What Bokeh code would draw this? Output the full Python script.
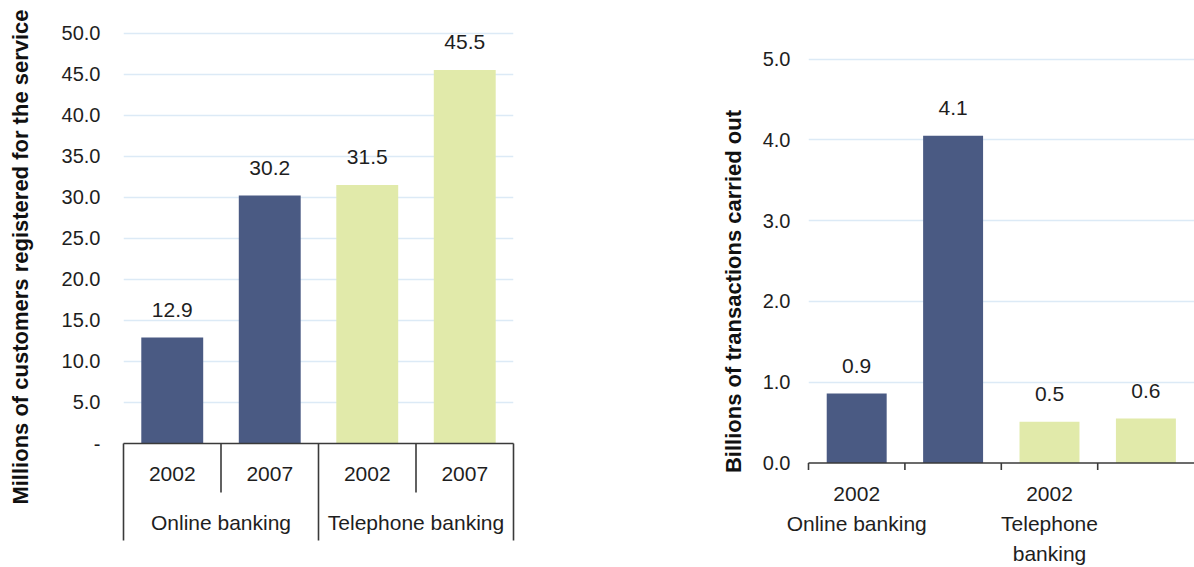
import math
from decimal import Decimal, ROUND_HALF_UP

from bokeh.plotting import figure
from bokeh.layouts import row
from bokeh.models import Range1d, FixedTicker, CustomJSTickFormatter
from bokeh.core.properties import value
from bokeh.embed import file_html
from bokeh.resources import INLINE

# ---------------- data ----------------
channels = ["Online banking", "Online banking", "Telephone banking", "Telephone banking"]
years = ["2002", "2007", "2002", "2007"]
customers_millions = [12.9, 30.2, 31.5, 45.5]
transactions_billions = [0.86, 4.05, 0.51, 0.55]
channel_colors = {"Online banking": "#4A5A83", "Telephone banking": "#E1EAAA"}
left_ticks = [0, 5, 10, 15, 20, 25, 30, 35, 40, 45, 50]
right_ticks = [0, 1, 2, 3, 4, 5]
left_title = "Millions of customers registered for the service"
right_title = "Billions of transactions carried out"

# ---------------- style ----------------
FONT = "Liberation Sans"
TEXT = "#1E1E1E"
AXIS = "#3A3A3A"
GRID = "#DCEAF6"

# shared vertical layout (both figures identical so row alignment is neutral)
BORDER_TOP = 20
FRAME_H = 512
BORDER_BOTTOM = 35


def fmt1(v):
    return str(Decimal(str(v)).quantize(Decimal("0.1"), rounding=ROUND_HALF_UP))


n = len(years)
xs = [i + 0.5 for i in range(n)]
bar_colors = [channel_colors[c] for c in channels]

group_edges = [0] + [i for i in range(1, n) if channels[i] != channels[i - 1]] + [n]
inner_edges = [i for i in range(1, n) if i not in group_edges]
group_centers = [(a + b) / 2 for a, b in zip(group_edges[:-1], group_edges[1:])]
group_names = [channels[a] for a in group_edges[:-1]]


def style_yaxis(p, ticks, formatter_code, label_standoff, tick_size):
    ax = p.yaxis[0]
    ax.ticker = FixedTicker(ticks=ticks, minor_ticks=[])
    ax.formatter = CustomJSTickFormatter(code=formatter_code)
    ax.axis_line_color = None
    ax.major_tick_line_color = None
    ax.minor_tick_line_color = None
    ax.major_tick_out = 0
    ax.major_tick_in = 0
    ax.major_label_standoff = label_standoff
    ax.major_label_text_font = FONT
    ax.major_label_text_font_size = tick_size
    ax.major_label_text_color = TEXT


def base_style(p):
    p.outline_line_color = None
    p.xgrid.grid_line_color = None
    p.ygrid.grid_line_color = GRID
    p.ygrid.grid_line_width = 1.5
    p.background_fill_color = "white"
    p.border_fill_color = "white"


def add_title(p, text, y_center, x_offset_px, size):
    p.text(x=[0], y=[y_center], text=[text], x_offset=x_offset_px, angle=math.pi / 2,
           text_align="center", text_baseline="middle", text_font=value(FONT),
           text_font_size=size, text_font_style="bold", text_color="#111111", level="overlay")


# ================= left chart =================
l_scale = 8.21       # px per unit
l_zero = 423         # px from frame top down to value 0
pl = figure(
    width=600, height=BORDER_TOP + FRAME_H + BORDER_BOTTOM,
    frame_width=390, frame_height=FRAME_H,
    min_border_left=123, min_border_right=87, min_border_top=BORDER_TOP, min_border_bottom=BORDER_BOTTOM,
    x_range=Range1d(0, n), y_range=Range1d(-(FRAME_H - l_zero) / l_scale, l_zero / l_scale),
    x_axis_location=None, output_backend="svg", toolbar_location=None,
)
base_style(pl)
pl.ygrid.ticker = FixedTicker(ticks=left_ticks[1:])
style_yaxis(pl, left_ticks, "return tick == 0 ? '-' : tick.toFixed(1);", 23, "20px")
add_title(pl, left_title, (l_zero - 236.5) / l_scale, -103.5, "22px")

pl.vbar(x=xs, top=customers_millions, bottom=0, width=0.635,
        fill_color=bar_colors, line_color=None)
pl.text(x=xs, y=customers_millions, text=[fmt1(v) for v in customers_millions],
        y_offset=-28, text_align="center", text_baseline="middle",
        text_font=value(FONT), text_font_size="21px", text_color=TEXT)

pl.segment(x0=[0], y0=[0], x1=[n], y1=[0], line_color=AXIS, line_width=1.6, level="overlay")
pl.segment(x0=group_edges, y0=[0] * len(group_edges), x1=group_edges,
           y1=[-97 / l_scale] * len(group_edges), line_color=AXIS, line_width=1.6, level="overlay")
pl.segment(x0=inner_edges, y0=[0] * len(inner_edges), x1=inner_edges,
           y1=[-49 / l_scale] * len(inner_edges), line_color=AXIS, line_width=1.6, level="overlay")
pl.text(x=xs, y=[0] * n, text=years, y_offset=30, text_align="center", text_baseline="middle",
        text_font=value(FONT), text_font_size="21px", text_color=TEXT, level="overlay")
pl.text(x=group_centers, y=[0] * len(group_centers), text=group_names, y_offset=79,
        text_align="center", text_baseline="middle",
        text_font=value(FONT), text_font_size="21px", text_color=TEXT, level="overlay")

# ================= right chart =================
r_scale = 80.8
r_zero = 442.5
r_cat_px = 96.4
r_frame_w = 386
pr = figure(
    width=594, height=BORDER_TOP + FRAME_H + BORDER_BOTTOM,
    frame_width=r_frame_w, frame_height=FRAME_H,
    min_border_left=208, min_border_right=0, min_border_top=BORDER_TOP, min_border_bottom=BORDER_BOTTOM,
    x_range=Range1d(0, r_frame_w / r_cat_px),
    y_range=Range1d(-(FRAME_H - r_zero) / r_scale, r_zero / r_scale),
    x_axis_location=None, output_backend="svg", toolbar_location=None,
)
base_style(pr)
pr.ygrid.ticker = FixedTicker(ticks=right_ticks[1:])
style_yaxis(pr, right_ticks, "return tick.toFixed(1);", 18, "20px")
add_title(pr, right_title, (r_zero - 271) / r_scale, -75.5, "22px")

pr.vbar(x=xs, top=transactions_billions, bottom=0, width=0.622,
        fill_color=bar_colors, line_color=None)
pr.text(x=xs, y=transactions_billions, text=[fmt1(v) for v in transactions_billions],
        y_offset=-28, text_align="center", text_baseline="middle",
        text_font=value(FONT), text_font_size="21px", text_color=TEXT)

pr.segment(x0=[0], y0=[0], x1=[n], y1=[0], line_color=AXIS, line_width=1.6, level="overlay")
tick_x = list(range(n))
pr.segment(x0=tick_x, y0=[0] * n, x1=tick_x, y1=[-7 / r_scale] * n,
           line_color=AXIS, line_width=1.6, level="overlay")

label_step = 2
lab_x, lab_t, lab_off = [], [], []
for i in range(0, n, label_step):
    lines = [years[i]]
    name = channels[i]
    if len(name) > 15:
        lines += name.split(" ", 1)
    else:
        lines.append(name)
    for k, t in enumerate(lines):
        lab_x.append(xs[i])
        lab_t.append(t)
        lab_off.append(30.5 + 30 * k)
pr.text(x=lab_x, y=[0] * len(lab_x), text=lab_t, y_offset=lab_off,
        text_align="center", text_baseline="middle",
        text_font=value(FONT), text_font_size="21px", text_color=TEXT, level="overlay")

layout = row(pl, pr)
open("out.html", "w").write(file_html(layout, INLINE))
